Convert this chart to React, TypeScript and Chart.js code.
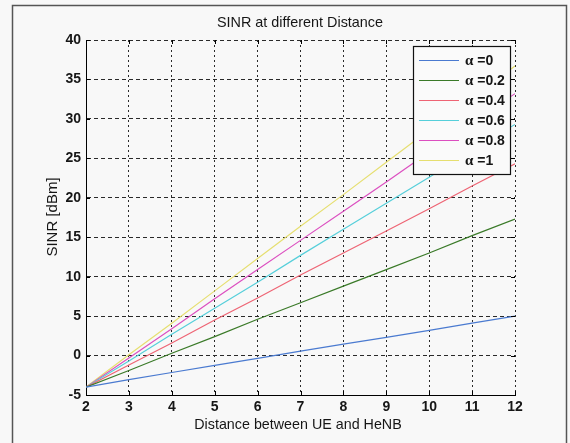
import React, { useEffect, useRef } from "react";
import { Chart, registerables } from "chart.js";

Chart.register(...registerables);

const distances = [2, 3, 4, 5, 6, 7, 8, 9, 10, 11, 12];
const alphaLabels = ["0", "0.2", "0.4", "0.6", "0.8", "1"];
const sinrAlpha0 = [-4, -3.05, -2.15, -1.25, -0.35, 0.55, 1.45, 2.3, 3.2, 4.1, 5.0];
const sinrAlpha02 = [-4, -1.9, 0.3, 2.4, 4.6, 6.7, 8.8, 10.9, 13.0, 15.2, 17.3];
const sinrAlpha04 = [-4, -1.2, 1.6, 4.5, 7.3, 10.2, 13.0, 15.8, 18.6, 21.5, 24.3];
const sinrAlpha06 = [-4, -0.7, 2.7, 6.0, 9.3, 12.7, 16.0, 19.3, 22.6, 26.0, 29.3];
const sinrAlpha08 = [-4, -0.3, 3.4, 7.2, 10.9, 14.6, 18.3, 22.0, 25.8, 29.5, 33.2];
const sinrAlpha1 = [-4, 0.1, 4.1, 8.2, 12.3, 16.4, 20.4, 24.5, 28.6, 32.6, 36.7];
const seriesValues = [sinrAlpha0, sinrAlpha02, sinrAlpha04, sinrAlpha06, sinrAlpha08, sinrAlpha1];
const seriesColors = ["#4a7ad0", "#3a7a28", "#ee6474", "#56cfda", "#dc4fc0", "#e6df70"];

const titleText = "SINR at different Distance";
const xTitleText = "Distance between UE and HeNB";
const yTitleText = "SINR [dBm]";

const FONT = "'Liberation Sans', Arial, sans-serif";
const TEXT_COLOR = "#161616";

const decorPlugin = {
  id: "decor",
  beforeDraw(chart: any) {
    const ctx = chart.ctx;
    ctx.save();
    ctx.fillStyle = "#f8f8f8";
    ctx.fillRect(0, 0, chart.width, chart.height);
    ctx.restore();
  },
  afterDraw(chart: any) {
    const ctx = chart.ctx;
    const area = chart.chartArea;
    const xs = chart.scales.x;
    const ys = chart.scales.y;
    ctx.save();
    // inward tick marks
    ctx.strokeStyle = "#000";
    ctx.lineWidth = 1;
    ctx.beginPath();
    xs.ticks.forEach((t: any) => {
      const px = Math.round(xs.getPixelForValue(t.value)) + 0.5;
      ctx.moveTo(px, area.bottom);
      ctx.lineTo(px, area.bottom - 4);
      ctx.moveTo(px, area.top);
      ctx.lineTo(px, area.top + 4);
    });
    ys.ticks.forEach((t: any) => {
      const py = Math.round(ys.getPixelForValue(t.value)) + 0.5;
      ctx.moveTo(area.left, py);
      ctx.lineTo(area.left + 4, py);
      ctx.moveTo(area.right, py);
      ctx.lineTo(area.right - 4, py);
    });
    ctx.stroke();

    // legend
    const lx = 413.5, ly = 46.5, lw = 97, lh = 128;
    ctx.fillStyle = "#fafafa";
    ctx.fillRect(lx, ly, lw, lh);
    ctx.strokeStyle = "#111";
    ctx.lineWidth = 1.2;
    ctx.strokeRect(lx, ly, lw, lh);
    alphaLabels.forEach((lab, i) => {
      const y = 60 + 20 * i;
      ctx.strokeStyle = seriesColors[i];
      ctx.lineWidth = 1.2;
      ctx.beginPath();
      ctx.moveTo(419, y + 0.5);
      ctx.lineTo(459, y + 0.5);
      ctx.stroke();
      ctx.fillStyle = TEXT_COLOR;
      ctx.textBaseline = "middle";
      ctx.textAlign = "left";
      ctx.font = "bold 15px 'Liberation Serif', serif";
      ctx.fillText("\u03b1", 465, y + 1);
      const aw = ctx.measureText("\u03b1").width;
      ctx.font = "bold 14px " + FONT;
      ctx.fillText(" =" + lab, 465 + aw, y + 1);
    });

    // titles
    ctx.fillStyle = TEXT_COLOR;
    ctx.textAlign = "center";
    ctx.textBaseline = "middle";
    ctx.font = "14.4px " + FONT;
    ctx.fillText(titleText, 300, 23);
    ctx.font = "14.3px " + FONT;
    ctx.fillText(xTitleText, 298, 425);
    ctx.save();
    ctx.translate(53, 217);
    ctx.rotate(-Math.PI / 2);
    ctx.font = "15px " + FONT;
    ctx.fillText(yTitleText, 0, 0);
    ctx.restore();

    // figure frame
    ctx.strokeStyle = "#555";
    ctx.lineWidth = 1.5;
    ctx.strokeRect(12.5, 5.5, 554, 470);
    ctx.restore();
  },
};

export default function App() {
  const canvasRef = useRef<HTMLCanvasElement | null>(null);

  useEffect(() => {
    if (!canvasRef.current) return;
    const datasets = seriesValues.map((vals, i) => ({
      label: "\u03b1 =" + alphaLabels[i],
      data: distances.map((d, j) => ({ x: d, y: vals[j] })),
      borderColor: seriesColors[i],
      backgroundColor: seriesColors[i],
      borderWidth: 1.2,
      pointRadius: 0,
      tension: 0,
      fill: false,
    }));
    const tickFont = { family: FONT, size: 14, weight: "bold" };
    const chart = new Chart(canvasRef.current, {
      type: "line",
      data: { datasets },
      plugins: [decorPlugin],
      options: {
        animation: false,
        responsive: false,
        devicePixelRatio: 1,
        layout: { padding: { left: 0, right: 55, top: 40, bottom: 0 } },
        plugins: {
          legend: { display: false },
          title: { display: false },
          tooltip: { enabled: false },
        },
        scales: {
          x: {
            type: "linear",
            min: 2,
            max: 12,
            afterFit: (s: any) => {
              s.height = 48;
            },
            ticks: { stepSize: 1, padding: 4, font: tickFont, color: TEXT_COLOR, maxRotation: 0 },
            grid: { color: "#2a2a2a", lineWidth: 1, drawTicks: false },
            border: { display: true, color: "#000", width: 1, dash: [2, 3] },
          },
          y: {
            type: "linear",
            min: -5,
            max: 40,
            afterFit: (s: any) => {
              s.width = 86;
            },
            ticks: { stepSize: 5, padding: 5, font: tickFont, color: TEXT_COLOR },
            grid: { color: "#2a2a2a", lineWidth: 1, drawTicks: false },
            border: { display: true, color: "#000", width: 1, dash: [4, 3] },
          },
        },
      },
    } as any);
    return () => chart.destroy();
  }, []);

  return (
    <div style={{ position: "absolute", left: 0, top: 0, width: 570, height: 443 }}>
      <canvas ref={canvasRef} width={570} height={443} style={{ width: 570, height: 443, display: "block" }} />
    </div>
  );
}
